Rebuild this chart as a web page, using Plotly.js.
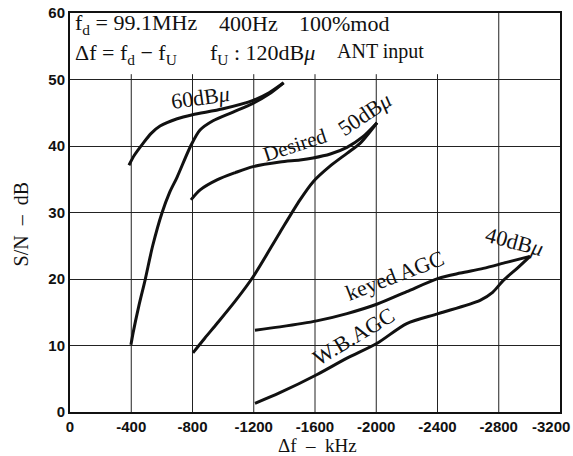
<!DOCTYPE html>
<html>
<head>
<meta charset="utf-8">
<script src="https://cdn.plot.ly/plotly-3.0.1.min.js"></script>
<style>html,body{margin:0;padding:0;background:#fff;}#chart{width:573px;height:456px;}</style>
</head>
<body>
<div id="chart"></div>
<script>
// Tick values / labels
const xTicks = [0, -400, -800, -1200, -1600, -2000, -2400, -2800, -3200];
const xTickText = ["0", "-400", "-800", "-1200", "-1600", "-2000", "-2400", "-2800", "-3200"];
const yTicks = [0, 10, 20, 30, 40, 50, 60];

// 60 dBμ desired
const d60x = [-385, -420, -477, -530, -588, -700, -800, -1000, -1200, -1300, -1395];
const d60y = [37.1, 38.6, 40.4, 41.9, 43.0, 44.1, 44.7, 45.6, 46.9, 48.0, 49.5];
// 60 dBμ (undesired sweep)
const u60x = [-398, -412, -450, -490, -540, -600, -650, -699, -788, -849, -934, -1065, -1195, -1300, -1395];
const u60y = [10.1, 11.9, 16.0, 19.8, 25.0, 29.9, 33.0, 35.3, 40.0, 42.4, 43.8, 45.1, 46.4, 47.8, 49.5];
// 50 dBμ desired
const d50x = [-790, -850, -960, -1080, -1195, -1371, -1502, -1587, -1700, -1809, -1913, -2005];
const d50y = [31.9, 33.4, 34.9, 36.0, 36.9, 37.6, 37.9, 38.2, 38.8, 39.8, 41.4, 43.5];
// 50 dBμ (undesired sweep)
const u50x = [-803, -880, -960, -1080, -1195, -1371, -1502, -1587, -1700, -1809, -1894, -2005];
const u50y = [8.9, 11.1, 13.3, 16.7, 20.3, 27.0, 31.9, 34.6, 37.0, 38.9, 40.4, 43.5];
// 40 dBμ keyed AGC
const kAgcX = [-1208, -1371, -1611, -1809, -2003, -2199, -2405, -2550, -2699, -2850, -3004];
const kAgcY = [12.3, 12.8, 13.7, 14.8, 16.2, 18.1, 20.1, 20.9, 21.6, 22.5, 23.4];
// 40 dBμ W.B.AGC
const wbAgcX = [-1208, -1371, -1611, -1809, -2003, -2199, -2405, -2678, -2760, -2830, -2920, -3004];
const wbAgcY = [1.3, 2.9, 5.6, 8.1, 10.3, 13.3, 14.8, 16.8, 18.0, 19.8, 21.6, 23.4];

const series = [[d60x, d60y], [u60x, u60y], [d50x, d50y], [u50x, u50y], [kAgcX, kAgcY], [wbAgcX, wbAgcY]];
const traces = series.map(s => ({
  x: s[0], y: s[1], type: 'scatter', mode: 'lines',
  line: {color: '#111', width: 3, shape: 'spline', smoothing: 0.8},
  hoverinfo: 'skip', showlegend: false
}));

// grid shapes: verticals up to 50 (-2800 up to 60), short ticks above 50
const shapes = [];
xTicks.slice(1, -1).forEach(v => {
  shapes.push({type: 'line', xref: 'x', yref: 'y', x0: v, x1: v, y0: 0, y1: v === -2800 ? 60 : 50,
    line: {color: '#222', width: 1}, layer: 'below'});
  if (v !== -2800) shapes.push({type: 'line', xref: 'x', yref: 'y', x0: v, x1: v, y0: 50, y1: 50.8,
    line: {color: '#222', width: 1}, layer: 'below'});
});

const serif = 'Liberation Serif, Times New Roman, serif';
const tickFont = {family: 'Liberation Sans, sans-serif', size: 15, color: '#111', weight: 'bold'};
function ann(text, x, y, size, angle, anchor) {
  return {text: text, x: x, y: y, xref: 'x', yref: 'y', showarrow: false,
    font: {family: serif, size: size, color: '#111'}, textangle: angle || 0,
    xanchor: anchor || 'center', yanchor: 'middle'};
}
const lastIdx = xTicks.length - 1;
const annotations = [
  ann('f<sub>d</sub> = 99.1MHz', -20, 58.4, 22, 0, 'left'),
  ann('400Hz', -960, 58.4, 22, 0, 'left'),
  ann('100%mod', -1480, 58.4, 22, 0, 'left'),
  ann('Δf = f<sub>d</sub> − f<sub>U</sub>', -20, 53.9, 22, 0, 'left'),
  ann('f<sub>U</sub> : 120dB<i>μ</i>', -900, 53.9, 22, 0, 'left'),
  ann('ANT input', -1730, 54.2, 20, 0, 'left'),
  ann('60dB<i>μ</i>', -850, 47.3, 22, -8),
  ann('Desired', -1470, 40.2, 21, -18),
  ann('50dB<i>μ</i>', -1920, 44.8, 22, -34),
  ann('40dB<i>μ</i>', -2900, 25.6, 22, 15),
  ann('keyed AGC', -2120, 20.6, 22, -21),
  ann('W.B.AGC', -1850, 11.4, 22, -31),
  // last x tick label, kept inside the page edge
  {text: xTickText[lastIdx], x: xTicks[lastIdx], xref: 'x', y: 0, yref: 'paper', showarrow: false,
    xanchor: 'right', yanchor: 'middle', xshift: 12, yshift: -14, font: tickFont},
  {text: 'S/N  –  dB', xref: 'paper', yref: 'paper', x: -0.1, y: 0.47, showarrow: false,
    textangle: -90, font: {family: serif, size: 20, color: '#111'}, xanchor: 'center', yanchor: 'middle'},
  {text: 'Δf  –  kHz', xref: 'paper', yref: 'paper', x: 0.505, y: -0.083, showarrow: false,
    font: {family: serif, size: 19, color: '#111'}, xanchor: 'center', yanchor: 'middle'}
];

const axisTickText = xTickText.map((t, i) => i === lastIdx ? '' : t);
const layout = {
  width: 573, height: 456,
  margin: {l: 70, r: 13, t: 13, b: 44},
  paper_bgcolor: '#fff', plot_bgcolor: '#fff',
  xaxis: {range: [0, -3200], autorange: false, tickvals: xTicks, ticktext: axisTickText,
    showgrid: false, zeroline: false, showline: true, mirror: true, linecolor: '#111', linewidth: 2,
    ticks: '', tickfont: tickFont, automargin: false, fixedrange: true},
  yaxis: {range: [0, 60], autorange: false, tickvals: yTicks, showgrid: true, gridcolor: '#222', gridwidth: 1,
    zeroline: false, showline: true, mirror: true, linecolor: '#111', linewidth: 2,
    ticks: '', tickfont: tickFont, automargin: false, fixedrange: true},
  shapes: shapes,
  annotations: annotations,
  showlegend: false
};
Plotly.newPlot('chart', traces, layout, {displayModeBar: false, staticPlot: true});
</script>
</body>
</html>
